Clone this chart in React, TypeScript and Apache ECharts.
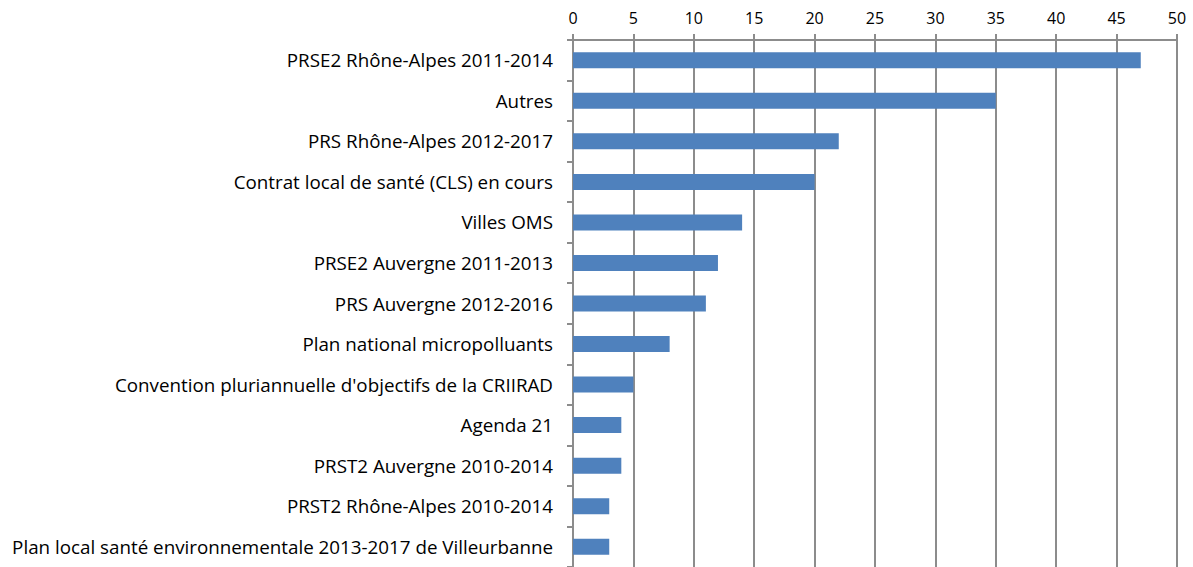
import React, { useEffect, useRef } from "react";
import * as echarts from "echarts";

const categories = [
  "PRSE2 Rhône-Alpes 2011-2014",
  "Autres",
  "PRS Rhône-Alpes 2012-2017",
  "Contrat local de santé (CLS) en cours",
  "Villes OMS",
  "PRSE2 Auvergne 2011-2013",
  "PRS Auvergne 2012-2016",
  "Plan national micropolluants",
  "Convention pluriannuelle d'objectifs de la CRIIRAD",
  "Agenda 21",
  "PRST2 Auvergne 2010-2014",
  "PRST2 Rhône-Alpes 2010-2014",
  "Plan local santé environnementale 2013-2017 de Villeurbanne",
];
const values = [47, 35, 22, 20, 14, 12, 11, 8, 5, 4, 4, 3, 3];

const GREY = "#8c8c8c";
const FONT = "'Open Sans', 'Noto Sans', sans-serif";

export default function App() {
  const ref = useRef<HTMLDivElement>(null);
  useEffect(() => {
    const chart = echarts.init(ref.current!, null, { renderer: "svg" });
    chart.setOption({
      animation: false,
      grid: { left: 573, right: 16, top: 40, bottom: 0, containLabel: false },
      xAxis: {
        type: "value",
        position: "top",
        min: 0,
        max: 50,
        interval: 5,
        axisLine: { show: true, lineStyle: { color: GREY, width: 2 } },
        axisTick: { show: true, length: 6, lineStyle: { color: GREY, width: 2 } },
        splitLine: { show: true, lineStyle: { color: GREY, width: 2 } },
        axisLabel: { color: "#000", fontSize: 16, fontFamily: FONT, margin: 14 },
      },
      yAxis: {
        type: "category",
        inverse: true,
        data: categories,
        axisLine: { show: true, lineStyle: { color: GREY, width: 2 } },
        axisTick: { show: true, length: 6, lineStyle: { color: GREY, width: 2 } },
        axisLabel: { color: "#000", fontSize: 18.8, fontFamily: FONT, margin: 20 },
      },
      series: [
        {
          type: "bar",
          data: values,
          barWidth: 16,
          itemStyle: { color: "#4f81bd" },
        },
      ],
    });
    return () => chart.dispose();
  }, []);
  return (
    <div
      ref={ref}
      style={{ position: "fixed", left: 0, top: 0, width: 1193, height: 567, background: "#fff" }}
    />
  );
}
